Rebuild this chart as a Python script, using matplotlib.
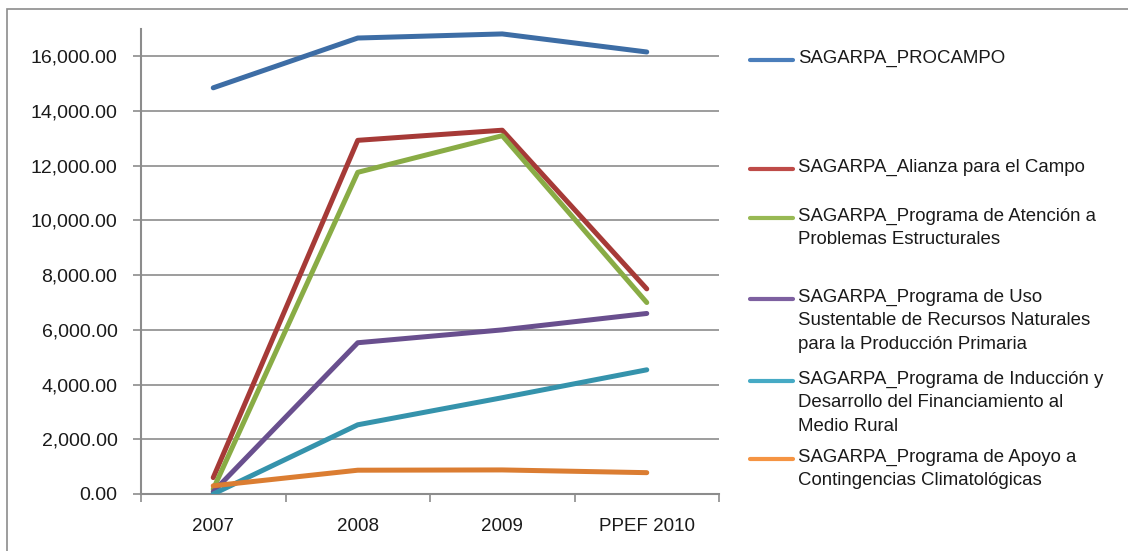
import matplotlib
matplotlib.use('Agg')
import matplotlib.pyplot as plt
from matplotlib.lines import Line2D
from matplotlib.patches import Rectangle
from matplotlib.ticker import FuncFormatter

plt.rcParams['font.family'] = ['Liberation Sans', 'DejaVu Sans']

# Data
categories = ['2007', '2008', '2009', 'PPEF 2010']
procampo = [14850, 16670, 16820, 16160]
alianza = [600, 12930, 13300, 7500]
atencion = [180, 11760, 13100, 7000]
uso_sustentable = [80, 5530, 6000, 6600]
induccion = [0, 2530, 3520, 4540]
contingencias = [300, 870, 880, 780]

labels = ['SAGARPA_PROCAMPO',
          'SAGARPA_Alianza para el Campo',
          'SAGARPA_Programa de Atención a\nProblemas Estructurales',
          'SAGARPA_Programa de Uso\nSustentable de Recursos Naturales\npara la Producción Primaria',
          'SAGARPA_Programa de Inducción y\nDesarrollo del Financiamiento al\nMedio Rural',
          'SAGARPA_Programa de Apoyo a\nContingencias Climatológicas']
series = [procampo, alianza, atencion, uso_sustentable, induccion, contingencias]
line_colors = ['#3D6DA5', '#A63A37', '#89AC45', '#694F8E', '#3593AC', '#DB7D32']
legend_colors = ['#4A7EBB', '#BE4B48', '#98B954', '#7D60A0', '#46AAC5', '#F59443']
legend_y = [60, 169, 218, 299, 381, 459]  # pixel rows of legend keys

W, H = 1128, 551
fig = plt.figure(figsize=(W / 100, H / 100), dpi=100)

# outer chart border
fig.patches.append(Rectangle((7 / W, -0.05), 1.1, (H - 9) / H + 0.05, transform=fig.transFigure,
                             fill=False, edgecolor='#8C8C8C', linewidth=1.2))

ax = fig.add_axes([141 / W, (H - 494) / H, (719 - 141) / W, (494 - 29) / H])
x = list(range(len(categories)))
for vals, c in zip(series, line_colors):
    ax.plot(x, vals, color=c, linewidth=3.6, solid_capstyle='round', solid_joinstyle='round', zorder=3)

ax.set_xlim(-0.5, len(categories) - 0.5)
ax.set_ylim(0, 17000)
ax.set_yticks(range(0, 16001, 2000))
ax.yaxis.set_major_formatter(FuncFormatter(lambda v, p: f'{v:,.2f}'))
ax.grid(axis='y', color='#8C8C8C', linewidth=1.2, zorder=0)

ax.set_xticks([i - 0.5 for i in range(len(categories) + 1)])
ax.set_xticklabels([])
ax.set_xticks(x, minor=True)
ax.set_xticklabels(categories, minor=True)
ax.tick_params(axis='x', which='minor', length=0, pad=17, labelsize=13.5, colors='#1A1A1A')
ax.tick_params(axis='x', which='major', length=6, width=1.2, color='#8C8C8C')
ax.tick_params(axis='y', length=6, width=1.2, color='#8C8C8C', labelsize=14, pad=11, labelcolor='#1A1A1A')

for s in ['top', 'right']:
    ax.spines[s].set_visible(False)
for s in ['left', 'bottom']:
    ax.spines[s].set_color('#8C8C8C')
    ax.spines[s].set_linewidth(1.5)

# legend drawn by hand to mimic the Excel layout
for lab, c, yy in zip(labels, legend_colors, legend_y):
    fy = (H - yy) / H
    fig.add_artist(Line2D([750 / W, 793 / W], [fy, fy], transform=fig.transFigure,
                          color=c, linewidth=3, solid_capstyle='round'))
    fig.text(798 / W, fy + 10.5 / H, lab, fontsize=13.4, va='top', ha='left',
             linespacing=1.5, color='#1A1A1A')

fig.savefig('out.png', dpi=100)
